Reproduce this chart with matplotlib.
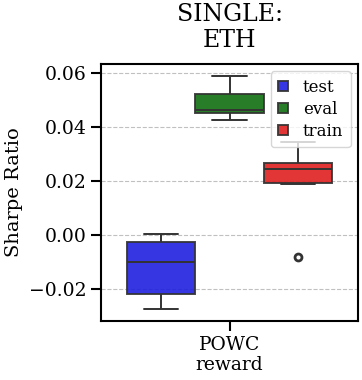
"""Sharpe ratio box plot, single asset (ETH)."""

import matplotlib
matplotlib.use("Agg")
import matplotlib.pyplot as plt
import seaborn as sns
import pandas as pd

category = "POWC\nreward"
splits = ["test", "eval", "train"]
split_colors = ["blue", "green", "red"]

test_vals = [-0.0273, -0.0219, -0.0099, -0.0025, 0.0005]
eval_vals = [0.0424, 0.0450, 0.0463, 0.0520, 0.0588]
train_vals = [-0.0083, 0.0187, 0.0193, 0.0210, 0.0243, 0.0250, 0.0267, 0.0300, 0.0345]


def buildFrame():
    rows = []
    for split, vals in zip(splits, [test_vals, eval_vals, train_vals]):
        for v in vals:
            rows.append({"reward": category, "split": split, "sharpe": v})
    return pd.DataFrame(rows)


def plotSharpe():
    sns.set_style("ticks")
    plt.rcParams["font.family"] = ["DejaVu Serif"]
    plt.rcParams["text.color"] = "black"
    plt.rcParams["axes.labelcolor"] = "black"
    plt.rcParams["xtick.color"] = "black"
    plt.rcParams["ytick.color"] = "black"
    fig, ax = plt.subplots(figsize=(3.62, 3.8), dpi=100)
    df = buildFrame()
    sns.boxplot(data=df, x="reward", y="sharpe", hue="split", hue_order=splits,
                palette=split_colors, saturation=0.75, ax=ax, linewidth=1.4,
                linecolor="#333333", boxprops=dict(alpha=0.9),
                flierprops=dict(marker="o", markersize=5, markeredgewidth=2.0,
                                markeredgecolor="#333333", markerfacecolor="white"),
                zorder=2)
    ax.set_ylim(-0.0319, 0.0633)
    ax.set_yticks([-0.02, 0.0, 0.02, 0.04, 0.06])
    ax.yaxis.grid(True, linestyle="--", color="#c0c0c0", linewidth=0.8, zorder=0)
    ax.set_axisbelow(True)
    ax.set_xlabel("")
    ax.set_ylabel("Sharpe Ratio", fontsize=14)
    ax.set_title("SINGLE:\nETH", fontsize=17, pad=12)
    ax.tick_params(labelsize=13.5, length=7, width=1.5)
    for spine in ax.spines.values():
        spine.set_visible(True)
        spine.set_linewidth(1.5)
        spine.set_color("black")
    leg = ax.legend(loc="upper right", fontsize=12, title=None,
                    handlelength=0.6, handleheight=0.6, handletextpad=0.85,
                    borderaxespad=0.45, labelspacing=0.3, borderpad=0.45)
    for h in leg.legend_handles:
        h.set_alpha(0.9)
    fig.subplots_adjust(left=0.279, right=0.989, top=0.832, bottom=0.155)
    plt.savefig("out.png", dpi=100)


if __name__ == "__main__":
    plotSharpe()
